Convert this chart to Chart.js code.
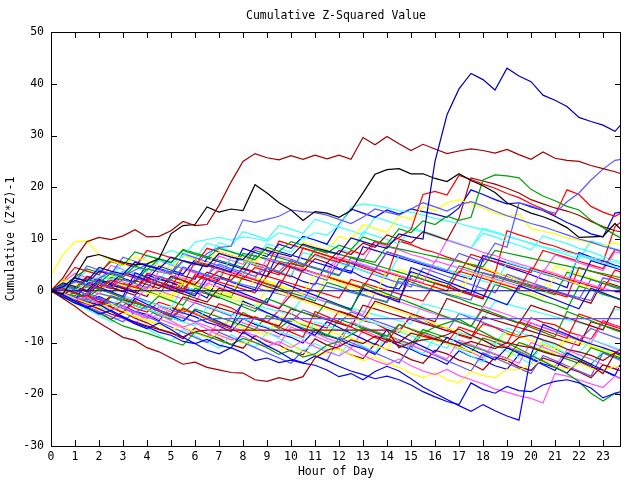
<!DOCTYPE html>
<html>
<head>
<meta charset="utf-8">
<title>Cumulative Z-Squared Value</title>
<script src="https://cdn.jsdelivr.net/npm/chart.js@4.4.1/dist/chart.umd.min.js"></script>
<style>
  html, body { margin: 0; padding: 0; background: #fff; }
  #wrap { width: 640px; height: 480px; }
</style>
</head>
<body>
<div id="wrap"><canvas id="chart" width="640" height="480"></canvas></div>
<script>
// Sample times (hours), every half hour, last one at 23:45
const hours = [
  0, 0.5, 1, 1.5, 2, 2.5, 3, 3.5,
  4, 4.5, 5, 5.5, 6, 6.5, 7, 7.5,
  8, 8.5, 9, 9.5, 10, 10.5, 11, 11.5,
  12, 12.5, 13, 13.5, 14, 14.5, 15, 15.5,
  16, 16.5, 17, 17.5, 18, 18.5, 19, 19.5,
  20, 20.5, 21, 21.5, 22, 22.5, 23, 23.5,
  23.75
];
const hourTicks = [0, 1, 2, 3, 4, 5, 6, 7, 8, 9, 10, 11, 12, 13, 14, 15, 16, 17, 18, 19, 20, 21, 22, 23];
const valueTicks = [-30, -20, -10, 0, 10, 20, 30, 40, 50];

// Series
const zeroLine = [
  0, 0, 0, 0, 0, 0, 0, 0,
  0, 0, 0, 0, 0, 0, 0, 0,
  0, 0, 0, 0, 0, 0, 0, 0,
  0, 0, 0, 0, 0, 0, 0, 0,
  0, 0, 0, 0, 0, 0, 0, 0,
  0, 0, 0, 0, 0, 0, 0, 0,
  0
];
const bigBlue = [
  0, 0.8, 2.5, 1.8, 4.5, 3.8, 3.2, 5.5,
  4.8, 4.2, 6.5, 5.8, 5.2, 4.6, 7.2, 6.5,
  6, 8.5, 7.8, 7.2, 6.6, 9, 8.3, 7.7,
  7.1, 10.2, 9.5, 8.8, 8.2, 11, 10.4, 10,
  25, 34, 39, 42, 40.8, 38.8, 43, 41.5,
  40.4, 37.8, 36.8, 35.6, 33.5, 32.7, 32, 30.8,
  32.1
];
const darkRedTop = [
  0, 2.5, 6.2, 9.5, 10.3, 9.9, 10.6, 11.8,
  10.4, 10.5, 11.6, 13.4, 12.6, 12.8, 16.5, 21,
  25, 26.5, 25.7, 25.3, 26.1, 25.4, 26.2, 25.5,
  26.2, 25.4, 29.6, 28.2, 29.8, 28.4, 27.1, 28.3,
  27.4, 26.5, 27, 27.4, 27.1, 26.6, 27.3, 26.3,
  25.4, 26.8, 25.6, 25.2, 25, 24.2, 23.6, 23,
  22.6
];
const blackTop = [
  0, -0.6, 2.8, 6.5, 7, 6.2, 5.5, 5,
  5.2, 6.2, 11, 12.6, 12.8, 16.2, 15.2, 15.8,
  15.5, 20.5, 18.9, 17, 15.6, 13.6, 15.3, 15,
  14.2, 15.5, 18.9, 22.5, 23.4, 23.6, 22.6, 22.6,
  21.7, 21.1, 22.6, 21.3, 20.3, 19, 17, 16,
  15, 14.3, 13.4, 12.2, 10.3, 10.4, 10.5, 13,
  11.8
];
const darkRedLow = [
  0, -1.5, -3, -4.8, -6.2, -7.6, -9, -9.6,
  -11, -11.8, -13, -14.2, -13.8, -14.8, -15.3, -15.8,
  -15.9, -17.2, -17.5, -16.8, -17.3, -16.6, -13, -11.5,
  -10.8, -9.5, -10.2, -8.8, -9.5, -10, -8.2, -8.8,
  -9.4, -10, -10.6, -9.8, -10.5, -11.2, -10, -10.6,
  -11, -11.8, -12.5, -12.8, -13.5, -14.5, -16, -12,
  -11.3
];
const darkRedFlat = [
  0, -0.8, -1.8, -2.5, -3.5, -4.5, -5.2, -6,
  -6.8, -7.5, -8.2, -8.9, -7.9, -7.6, -7.6, -7.6,
  -7.6, -7.6, -7.6, -7.6, -7.6, -7.6, -7.6, -7.6,
  -7.6, -7.6, -7.6, -7.6, -7.6, -11, -10, -9.5,
  -9.2, -8.5, -7.4, -8.6, -9.5, -10.8, -11, -9,
  -8.6, -9.5, -10.2, -11.3, -11.8, -12.5, -13.5, -12,
  -12.5
];
const medBlueFlat = [
  0, -0.6, -1.4, -2.2, -1.5, -2.5, -3.4, -4.2,
  -3, -3.8, -4.6, -5.3, -6, -5.4, -5.4, -5.4,
  -5.4, -5.4, -5.4, -5.4, -5.4, -5.4, -5.4, -5.4,
  -5.4, -5.4, -5.4, -5.4, -5.4, -5.4, -5.4, -5.4,
  -5.4, -5.4, -5.4, -5.4, -5.4, -5.4, -5.4, -5.4,
  -5.4, -5.4, -5.4, -5.4, -5.4, -5.4, -5.4, -5.4,
  -5.4
];
const blueLowA = [
  0, -1.2, -2.4, -3.2, -4.5, -3.8, -5, -6.2,
  -7, -8, -8.6, -9.8, -10.2, -11.5, -12.2, -11,
  -12, -13.5, -13, -13.9, -13.4, -14, -14.4, -15.3,
  -16.6, -16, -17.2, -15.6, -14.6, -15.5, -17, -18.6,
  -19.8, -21, -22.2, -23.3, -22, -23.2, -24.2, -25,
  -12.4, -6.5, -7.5, -8.4, -9.5, -10.3, -11, -11.8,
  -12.2
];
const blueLowB = [
  0, -0.8, -2, -3.2, -2.6, -4, -5.2, -6.4,
  -7.3, -6.2, -7.5, -9, -10.2, -9.4, -10.5, -11.1,
  -8, -9.3, -10.6, -11.8, -13.2, -13.9, -12.6, -13.5,
  -14.6, -15.5, -16.2, -17, -16.5, -17.2, -18.2, -19.5,
  -20.5, -21.4, -22, -17.8, -19.1, -19.8, -18.5, -19.3,
  -19.5, -18.2, -17.5, -17.2, -17.8, -18.8, -20.7, -19.8,
  -19.5
];
const greenLow = [
  0, -1, -2.2, -3.2, -4.3, -5.6, -6.8, -7.5,
  -8.2, -9, -9.8, -10.5, -8, -8.8, -9.6, -10.4,
  -9.2, -10, -11, -12.3, -11.5, -12.8, -12.2, -10.5,
  -9.8, -8.5, -7.2, -8, -8.8, -6.5, -7.4, -8.2,
  -7, -6.2, -5.5, -6.8, -8, -9.2, -10.1, -11.2,
  -12.4, -13.6, -14.8, -16, -17.6, -19.8, -21.3, -19.8,
  -20.2
];
const magentaLow = [
  0, -0.6, -1.8, -1.2, -2.6, -3.8, -3, -4.2,
  -5.4, -4.6, -5.8, -7, -6.2, -7.4, -8.6, -9.5,
  -8.8, -10, -10.8, -9.8, -11, -9.6, -10.8, -11.8,
  -12.6, -11.2, -12.5, -13.5, -14.3, -13.2, -14.5, -15.5,
  -16.2, -15.2, -16.4, -17.2, -18, -19, -19.6, -20.3,
  -20.8, -21.7, -16, -16.5, -17.2, -18, -18.7, -16.5,
  -17
];
const yellowLow = [
  0, -0.5, -1.5, -2.4, -3.2, -2.5, -3.8, -5,
  -5.8, -6.6, -7.5, -6.8, -8, -9, -8.4, -9.5,
  -10.2, -9.4, -10.8, -11.6, -10.5, -11.8, -12.5, -12,
  -11.2, -12.4, -13.5, -12.8, -14, -14.8, -16, -16.8,
  -15.8, -17.2, -17.8, -15.6, -16.4, -16.8, -15.2, -15.3,
  -14.2, -13.5, -14.6, -15.2, -14, -15, -15.6, -14.5,
  -15
];
const medBlueRise = [
  0, 1, 0.2, -0.8, 1.5, 0.6, 2.2, 1.4,
  0.6, 2.8, 2, 4.6, 3.8, 3, 5.2, 4.3,
  3.6, 2.8, 4.5, 3.7, 6, 5.2, 4.5, 3.8,
  3.1, 5.5, 4.8, 4, 7.5, 6.8, 6, 5.2,
  4.5, 3.8, 7.2, 6.4, 5.6, 9.2, 8.4, 17,
  16.4, 15.6, 15, 17.2, 18.9, 21.4, 23.5, 25.2,
  25.4
];
const medBlueHigh = [
  0, 0.6, 1.8, 1, 2.4, 3.6, 2.8, 4,
  5, 4.2, 3.5, 5.8, 5, 7.2, 8.4, 8.6,
  13.7, 13.2, 13.8, 14.4, 15.6, 15.3, 15.1, 14.6,
  13.8, 13, 14.2, 15.8, 15.2, 14.6, 15.8, 17,
  16.2, 15.4, 16.6, 17.2, 16.4, 15.4, 14.5, 13.8,
  13, 12.4, 11.6, 10.8, 10, 9.4, 8.6, 8,
  7.6
];
const greenHigh = [
  0, 1.2, 0.4, 2.2, 1.5, 3.4, 2.6, 4.8,
  4, 6.2, 5.5, 7.8, 7, 6.3, 8.2, 7.5,
  6.8, 6, 8.4, 7.6, 9.5, 8.8, 8, 7.3,
  8.8, 8, 10.4, 9.6, 9, 12, 11.2, 13.5,
  12.8, 14.4, 13.6, 14.2, 21.4, 22.4, 22.2, 21.8,
  19.6, 18.3, 17.4, 16.3, 15.6, 13.6, 12.2, 10.8,
  10.2
];
const redHigh = [
  0, 0.4, -0.6, 1.2, 0.5, 2, 1.3, 0.6,
  2.4, 1.7, 1, 0.3, 2.8, 2.1, 3.8, 3,
  2.3, 4.5, 3.8, 3.1, 5.4, 4.6, 7, 6.2,
  5.5, 7.8, 7, 9.6, 8.8, 10.3, 11.8, 18.6,
  19.2, 18.5, 22.3, 21.5, 20.6, 19.8, 18.8, 18,
  16.8, 15.8, 14.6, 19.5, 18.6, 16.3, 15.2, 14.4,
  15
];
const cyanHigh = [
  0, 0.8, 0, 1.6, 2.8, 2.1, 3.5, 4.6,
  4, 5.8, 5.2, 6.6, 9.4, 9.9, 10.3, 9.8,
  10.4, 10.1, 9.6, 11.2, 10.6, 10, 11.2, 10.8,
  12.6, 16.2, 16.8, 16.5, 16, 15.5, 15.2, 14.6,
  14, 13.5, 13, 12.4, 11.8, 11.2, 10.5, 9.8,
  9.2, 8.5, 8, 7.4, 6.9, 6.4, 6, 5.5,
  5.2
];
const yellowHigh = [
  3, 7, 9.5, 9.6, 7, 5.8, 4.8, 6.5,
  5.8, 5, 4.2, 6.8, 6, 5.3, 7.5, 6.8,
  6.2, 5.5, 8, 7.3, 6.6, 9.4, 8.6, 7.9,
  10.5, 9.8, 12.8, 12, 11.3, 14.5, 13.8, 16.2,
  15.5, 17, 17.6, 16.8, 16, 15, 14.4, 14.8,
  12, 11.5, 11, 10.2, 9.8, 9.2, 8.6, 9.3,
  8.8
];
const darkRedMid = [
  0, -0.8, 0.6, -0.2, 1.4, 0.6, -0.2, 2,
  1.2, 0.4, 2.8, 2, 1.2, 3.6, 2.8, 2,
  4.4, 3.6, 2.8, 5.4, 4.6, 3.8, 6.2, 5.4,
  7.8, 7, 9.2, 8.4, 10.8, 10, 9.2, 11.4,
  10.6, 9.8, 14, 21.8, 21.2, 20.6, 19.8, 18.9,
  17.6, 16.8, 16, 15.4, 14.6, 13.4, 12.4, 11.6,
  11.4
];
const blueMid = [
  0, 1.5, 0.8, 0, 2.2, 1.4, 3.6, 2.8,
  2, 4.8, 4, 3.2, 6, 5.2, 4.4, 3.6,
  8.2, 7.4, 6.6, 9, 8.2, 10.5, 9.8, 9,
  12.8, 15.8, 15, 14.2, 15.6, 14.8, 15.8, 15.3,
  14.8, 14.2, 16, 19.5, 18.6, 17.6, 16.8, 17,
  16.2, 15.5, 14.4, 13.2, 12.2, 11, 10.4, 15,
  15.2
];
const red1 = [
  0, -1, -2, -1, -2.2, -3.2, -4.2, -2,
  -3, -4, -5, -3.5, -4.5, -5.5, -6.5, -7.4,
  -8.3, -5, -6, -7, -8, -9, -4, -5,
  -6, -7, -8, -9, -10, -6.5, -7.5, -8.5,
  -9.3, -10, -7, -7.8, -8.6, -9.4, -10.2, -6,
  -6.8, -7.6, -8.4, -9.2, -4.5, -5.3, -6.2, -7,
  -7.4
];
const green1 = [
  0, 0.5, -0.5, -1.4, 0.4, -0.5, -1.4, -2.3,
  -3.2, -1, -1.9, -2.8, 0.5, -0.4, -1.3, -2.2,
  -3.1, -4, -1.5, -2.4, -3.3, -4.2, -5.1, -2,
  -2.9, -3.8, 1.2, 0.3, -0.6, -1.5, -2.4, -3.3,
  -4.2, -5.1, -6, -6.9, -3.5, -4.4, -5.3, -6.2,
  -7.1, -8, -8.9, -4, -4.9, -5.8, -6.7, -7.6,
  -8
];
const blue1 = [
  0, -0.9, -1.8, 1.6, 0.7, -0.2, -1.1, 3.5,
  2.6, 1.7, 0.8, -0.1, -1, 2.2, 1.3, 0.4,
  -0.5, -1.4, -2.3, 1.8, 0.9, 0, -0.9, -1.8,
  -2.7, -3.6, 0.5, -0.4, -1.3, -2.2, 4.5, 3.6,
  2.7, 1.8, 0.9, 0, -0.9, -1.8, -2.7, 1,
  0.1, -0.8, -1.7, -2.6, -3.5, 0.5, -0.4, -1.3,
  -1.7
];
const magenta1 = [
  0, -0.7, 0.8, 0.1, -0.6, 2.4, 1.7, 1,
  0.3, 3.8, 3.1, 2.4, 1.7, 1, 4.4, 3.7,
  3, 2.3, 6.2, 5.5, 4.8, 4.1, 3.4, 2.7,
  6.5, 5.8, 5.1, 4.4, 3.7, 3, 2.3, 1.6,
  5.8, 5.1, 4.4, 3.7, 3, 2.3, 1.6, 0.9,
  0.2, 4, 3.3, 2.6, 1.9, 1.2, 0.5, -0.2,
  -0.5
];
const cyan1 = [
  0, -0.8, -1.6, -2.4, -3.2, -4, -2, -2.8,
  -3.6, -4.4, -5.2, -6, -6.8, -3, -3.8, -4.6,
  -5.4, -6.2, -7, -7.8, -8.6, -9.4, -6, -6.8,
  -7.6, -8.4, -5.5, -6.3, -7.1, -7.9, -8.7, -9.5,
  -10.3, -11.1, -8, -8.8, -9.6, -10.4, -7.2, -8,
  -8.8, -9.6, -10.4, -11.2, -12, -9.4, -10.2, -11,
  -11.4
];
const darkred1 = [
  0, 0.4, -0.4, -1.2, 1.5, 0.7, -0.1, -0.9,
  1.8, 1, 0.2, -0.6, -1.4, -2.2, 0.5, -0.3,
  -1.1, -1.9, -2.7, -3.5, -0.8, -1.6, -2.4, -3.2,
  -4, -4.8, -5.6, -2, -2.8, -3.6, -4.4, -5.2,
  -6, -1.5, -2.3, -3.1, -3.9, -4.7, -5.5, -6.3,
  -2.8, -3.6, -4.4, -5.2, -6, -6.8, -7.6, -3,
  -3.4
];
const yellow1 = [
  0, 1.8, 1, 0.2, -0.6, 2, 1.2, 0.4,
  -0.4, -1.2, -2, 1.6, 0.8, 0, -0.8, -1.6,
  -2.4, -3.2, 0.4, -0.4, -1.2, -2, -2.8, -3.6,
  -4.4, -5.2, -6, -2.4, -3.2, -4, -4.8, -5.6,
  -6.4, -7.2, -8, -8.8, -9.6, -10.4, -8, -8.8,
  -9.6, -10.4, -11.2, -9, -9.8, -10.6, -11.4, -12.2,
  -12.6
];
const medblue1 = [
  0, -0.6, -1.2, -1.8, -0.5, -1.1, -1.7, 2.4,
  1.8, 1.2, 0.6, 0, -0.6, 3, 2.4, 1.8,
  1.2, 0.6, 0, -0.6, -1.2, -1.8, 1.5, 0.9,
  0.3, -0.3, -0.9, -1.5, -2.1, 1.8, 1.2, 0.6,
  0, -0.6, -1.2, -1.8, 3.5, 2.9, 2.3, 1.7,
  1.1, 0.5, -0.1, -0.7, -1.3, -1.9, 2.5, 1.9,
  1.6
];
const red2 = [
  0, 1.2, 0.5, 2.8, 2.1, 1.4, 0.7, 0,
  3.4, 2.7, 2, 1.3, 5.6, 4.9, 4.2, 3.5,
  2.8, 2.1, 1.4, 0.7, 4.8, 4.1, 3.4, 2.7,
  2, 1.3, 0.6, 4.2, 3.5, 2.8, 2.1, 1.4,
  0.7, 0, 3.8, 3.1, 2.4, 1.7, 1, 0.3,
  4.4, 3.7, 3, 2.3, 1.6, 0.9, 0.2, 4,
  3.6
];
const green2 = [
  0, -0.5, -1, 0.8, 0.3, 2.6, 2.1, 1.6,
  4.2, 3.7, 3.2, 5.8, 5.3, 4.8, 4.3, 3.8,
  7.2, 6.7, 6.2, 5.7, 5.2, 4.7, 8, 7.5,
  7, 6.5, 6, 5.5, 8.6, 8.1, 7.6, 7.1,
  6.6, 6.1, 5.6, 5.1, 4.6, 7.8, 7.3, 6.8,
  6.3, 5.8, 5.3, 4.8, 4.3, 3.8, 3.3, 2.8,
  2.5
];
const blue2 = [
  0, -1.1, -2.2, -3.3, -2, -3.1, -4.2, -1.5,
  -2.6, -3.7, -4.8, -5.9, -3.8, -4.9, -6, -7.1,
  -2, -3.1, -4.2, -5.3, -6.4, -7.5, -8.6, -6,
  -7.1, -8.2, -9.3, -10.4, -7.5, -8.6, -9.7, -10.8,
  -11.9, -9, -10.1, -11.2, -12.3, -13.4, -11, -12.1,
  -13.2, -14.3, -15.4, -12, -13.1, -14.2, -15.3, -16.4,
  -14
];
const magenta2 = [
  0, -0.9, -1.8, -2.7, -3.6, -4.5, -5.4, -6.3,
  -4.5, -5.4, -6.3, -7.2, -8.1, -9, -6, -6.9,
  -7.8, -8.7, -9.6, -10.5, -7, -7.9, -8.8, -9.7,
  -10.6, -6, -6.9, -7.8, -8.7, -9.6, -10.5, -11.4,
  -12.3, -13.2, -9.5, -10.4, -11.3, -12.2, -13.1, -14,
  -10, -10.9, -11.8, -12.7, -8.5, -9.4, -10.3, -11.2,
  -11.6
];
const cyan2 = [
  0, 1.5, 0.8, 0.1, 2.2, 1.5, 4, 3.3,
  2.6, 1.9, 5.2, 4.5, 3.8, 3.1, 2.4, 6.5,
  5.8, 5.1, 4.4, 3.7, 3, 7.4, 6.7, 6,
  5.3, 4.6, 3.9, 3.2, 2.5, 6.8, 6.1, 5.4,
  4.7, 4, 3.3, 2.6, 1.9, 1.2, 5.5, 4.8,
  4.1, 3.4, 2.7, 2, 6.8, 6.1, 5.4, 4.7,
  4.4
];
const darkred2 = [
  0, -0.7, -1.4, -2.1, -2.8, -1, -1.7, -2.4,
  -3.1, -3.8, -4.5, -1.2, -1.9, -2.6, -3.3, -4,
  -4.7, -5.4, -6.1, -6.8, -3.5, -4.2, -4.9, -5.6,
  -6.3, -7, -2.8, -3.5, -4.2, -4.9, -5.6, -6.3,
  -7, -7.7, -8.4, -9.1, -5, -5.7, -6.4, -7.1,
  -7.8, -8.5, -9.2, -9.9, -10.6, -6, -6.7, -7.4,
  -7.8
];
const yellow2 = [
  0, 2.2, 1.4, 0.6, -0.2, 3, 2.2, 1.4,
  0.6, -0.2, -1, 2.6, 1.8, 1, 0.2, -0.6,
  3.5, 2.7, 1.9, 1.1, 0.3, -0.5, 3.2, 2.4,
  1.6, 0.8, 0, -0.8, 3.8, 3, 2.2, 1.4,
  0.6, -0.2, -1, 3.5, 2.7, 1.9, 1.1, 0.3,
  -0.5, -1.3, 2.8, 2, 1.2, 0.4, -0.4, -1.2,
  -1.6
];
const medblue2 = [
  0, -1, -2, -3, -4, -5, -6, -4,
  -5, -6, -7, -8, -9, -10, -8, -9,
  -10, -11, -12, -13, -14, -11.5, -12.5, -13.5,
  -9, -10, -11, -12, -13, -14, -10.5, -11.5,
  -12.5, -13.5, -14.5, -15.5, -12, -13, -14, -15,
  -16, -12.5, -13.5, -14.5, -15.5, -16.5, -12, -13,
  -13.5
];
const red3 = [
  0, 1, 2.5, 1.8, 1.1, 0.4, 3.2, 2.5,
  1.8, 1.1, 0.4, -0.3, 3.1, 2.4, 1.7, 1,
  0.3, -0.4, 2.8, 2.1, 1.4, 0.7, 0, -0.7,
  -1.4, 2.2, 1.5, 0.8, 0.1, -0.6, -1.3, -2,
  1.5, 0.8, 0.1, -0.6, -1.3, 3, 2.3, 1.6,
  0.9, 0.2, -0.5, -1.2, 4.5, 3.8, 3.1, 2.4,
  2
];
const green3 = [
  0, -0.8, -1.6, -2.4, -3.2, -1.2, -2, -2.8,
  -3.6, -4.4, -5.2, -6, -3.5, -4.3, -5.1, -5.9,
  -6.7, -7.5, -4.8, -5.6, -6.4, -7.2, -8, -8.8,
  -5.5, -6.3, -7.1, -7.9, -8.7, -9.5, -10.3, -7.5,
  -8.3, -9.1, -9.9, -10.7, -11.5, -12.3, -13.1, -10,
  -10.8, -11.6, -12.4, -13.2, -14, -11, -11.8, -12.6,
  -13
];
const blue3 = [
  0, 0.6, 2, 1.3, 3.8, 3.1, 2.4, 1.7,
  5, 4.3, 3.6, 2.9, 2.2, 6.3, 5.6, 4.9,
  4.2, 3.5, 2.8, 7.6, 6.9, 6.2, 5.5, 4.8,
  4.1, 3.4, 8.5, 7.8, 7.1, 6.4, 5.7, 5,
  4.3, 3.6, 2.9, 2.2, 6.8, 6.1, 5.4, 4.7,
  4, 3.3, 2.6, 1.9, 1.2, 5.8, 5.1, 4.4,
  4
];
const magenta3 = [
  0, 0.5, -0.3, 1.2, 0.4, -0.4, -1.2, -2,
  0.8, 0, -0.8, -1.6, -2.4, 1.5, 0.7, -0.1,
  -0.9, -1.7, -2.5, -3.3, 0.2, -0.6, -1.4, -2.2,
  -3, -3.8, -4.6, -0.5, -1.3, -2.1, -2.9, -3.7,
  -4.5, -5.3, -6.1, -6.9, -3, -3.8, -4.6, -5.4,
  -6.2, -7, -7.8, -8.6, -9.4, -10.2, -6, -6.8,
  -7.2
];
const cyan3 = [
  0, -0.6, -1.2, -1.8, -2.4, -3, -1, -1.6,
  -2.2, -2.8, -3.4, 0.8, 0.2, -0.4, -1, -1.6,
  -2.2, -2.8, -3.4, -4, -4.6, -1, -1.6, -2.2,
  -2.8, -3.4, -4, -4.6, -5.2, -5.8, -6.4, -2.5,
  -3.1, -3.7, -4.3, -4.9, -5.5, -2, -2.6, -3.2,
  -3.8, -4.4, -5, -5.6, -6.2, -6.8, -7.4, -3.5,
  -3.8
];
const yellow3 = [
  0, -0.7, -1.4, -2.1, -2.8, -3.5, -4.2, -4.9,
  -5.6, -6.3, -3, -3.7, -4.4, -5.1, -5.8, -6.5,
  -7.2, -7.9, -8.6, -5, -5.7, -6.4, -7.1, -7.8,
  -8.5, -9.2, -9.9, -10.6, -11.3, -7.5, -8.2, -8.9,
  -9.6, -10.3, -11, -11.7, -12.4, -13.1, -13.8, -10,
  -10.7, -11.4, -12.1, -9.5, -10.2, -10.9, -11.6, -12.3,
  -12.6
];
const red4 = [
  0, 1.8, 4.5, 3.8, 3.1, 6, 5.3, 4.6,
  7.8, 7.1, 6.4, 5.7, 5, 8.2, 7.5, 6.8,
  6.1, 5.4, 4.7, 9.6, 8.9, 8.2, 7.5, 6.8,
  6.1, 5.4, 4.7, 4, 7.5, 6.8, 6.1, 5.4,
  4.7, 4, 3.3, 7, 6.3, 5.6, 4.9, 4.2,
  3.5, 7.8, 7.1, 6.4, 5.7, 5, 4.3, 8,
  7.6
];
const green4 = [
  0, 0.9, 2.6, 4.2, 3.5, 5.6, 4.9, 7.5,
  6.8, 6.1, 5.4, 8, 7.3, 6.6, 5.9, 5.2,
  4.5, 7.8, 7.1, 6.4, 5.7, 5, 4.3, 3.6,
  2.9, 6.4, 5.7, 5, 4.3, 3.6, 2.9, 2.2,
  1.5, 0.8, 4.8, 4.1, 3.4, 2.7, 2, 1.3,
  0.6, -0.1, -0.8, 3.6, 2.9, 2.2, 1.5, 0.8,
  0.5
];
const medblue3 = [
  0, 0.8, 1.6, 4.8, 4, 3.2, 6.5, 5.7,
  4.9, 4.1, 3.3, 7.2, 6.4, 5.6, 4.8, 4,
  3.2, 6.8, 6, 5.2, 4.4, 3.6, 2.8, 2,
  5.5, 4.7, 3.9, 3.1, 2.3, 1.5, 0.7, 4.4,
  3.6, 2.8, 2, 1.2, 0.4, -0.4, 3.2, 2.4,
  1.6, 0.8, 0, -0.8, -1.6, 2.2, 1.4, 0.6,
  0.2
];
const cyan4 = [
  0, -1.2, -2.4, -3.6, -4.8, -6, -5, -6.2,
  -7.4, -8.6, -9.8, -7.5, -8.7, -9.9, -11.1, -8.5,
  -9.7, -10.9, -8, -9.2, -10.4, -11.6, -10.2, -11.4,
  -12.6, -9.5, -10.7, -11.9, -8.6, -9.8, -11, -12.2,
  -9, -10.2, -11.4, -12.6, -13.8, -10.5, -11.7, -12.9,
  -14.1, -9.8, -11, -12.2, -13.4, -14.6, -11.2, -12.4,
  -13
];
const red5 = [
  0, -0.4, -1.3, -0.9, -1.7, -2.8, -2.1, -3.4,
  -4.1, -2.2, -3, -3.9, -4.3, -5.5, -2.5, -3.3,
  -4.6, -5.2, -6.1, -3.8, -4.4, -5.7, -6.5, -7.2,
  -3.9, -4.6, -5.8, -6.3, -7.5, -8.1, -4.7, -5.5,
  -6.8, -7.2, -8.6, -9.3, -6.4, -7.1, -8.3, -8.9,
  -5.2, -6.1, -6.6, -7.9, -8.6, -9.4, -5.8, -6.7,
  -7
];
const blue4 = [
  0, 0.9, -0.3, 2.7, 1.9, 1.1, 0.5, -0.4,
  3.1, 2.2, 1.6, 0.5, -0.2, -1.4, 2.6, 1.7,
  0.9, 0.2, 4.5, 3.6, 2.9, 1.8, 1.2, 5.4,
  4.3, 3.8, 2.6, 1.9, 0.8, 0.3, 3.7, 2.9,
  2.1, 1.4, 0.2, -0.5, 6.2, 5.5, 4.6, 3.9,
  3.1, 2.2, 1.5, 0.6, 7.4, 6.5, 5.8, 4.9,
  4.6
];
const magenta4 = [
  0, 1.6, 3.4, 2.5, 1.8, 4.9, 4.1, 3.2,
  2.6, 5.8, 5, 4.3, 3.4, 2.8, 6.7, 5.9,
  5.1, 8.2, 7.6, 6.7, 6.1, 5.2, 4.4, 3.8,
  7.1, 6.3, 5.6, 9.4, 8.5, 7.9, 7, 6.4,
  5.5, 9.8, 9, 8.3, 7.4, 6.8, 5.9, 5.2,
  4.5, 3.6, 6.9, 6.2, 5.4, 4.7, 3.9, 7.5,
  7.2
];
const green5 = [
  0, -1.1, -0.4, -1.6, -2.5, -3.7, -1.8, -2.9,
  -3.6, -4.8, -5.5, -3.3, -4.4, -5.1, -6.3, -7,
  -4.2, -5.4, -6.1, -7.3, -5.5, -6.6, -7.4, -8.5,
  -9.3, -6.2, -7.4, -8.1, -9.2, -10.1, -10.9, -8,
  -8.8, -10, -10.7, -11.9, -9.1, -9.9, -11.1, -11.8,
  -12.9, -10.4, -11.2, -12.3, -13.1, -14.2, -12, -12.8,
  -13.2
];
const cyan5 = [
  0, 0.3, 1.8, 3.9, 3.1, 2.4, 5.3, 4.5,
  3.6, 6.6, 7.8, 7, 6.1, 9.2, 8.5, 7.6,
  6.9, 6, 9.1, 8.3, 7.4, 10.5, 9.8, 8.9,
  8.2, 7.3, 11.4, 10.6, 9.9, 9, 12.3, 11.5,
  10.8, 9.9, 9.2, 8.3, 11.1, 10.4, 9.5, 8.8,
  7.9, 10.6, 9.8, 9.1, 8.2, 7.5, 6.6, 5.9,
  5.6
];
const darkred3 = [
  0, -1.3, -2.1, -3.4, -4.2, -5.5, -4.1, -5.3,
  -6.2, -7.4, -8.1, -9.3, -7.2, -8.3, -9.2, -10.4,
  -11.1, -8.6, -9.8, -10.5, -11.7, -12.4, -9.3, -10.5,
  -11.2, -12.4, -13.1, -10.2, -11.4, -12.1, -13.3, -14,
  -11.5, -12.2, -13.4, -14.1, -15.3, -12.8, -13.5, -14.7,
  -15.4, -13, -13.8, -14.9, -15.7, -16.8, -14.3, -15.1,
  -15.5
];
const yellow4 = [
  0, -0.6, 0.9, 0.2, -0.5, -1.3, 1.7, 0.9,
  0.2, -0.7, -1.4, 2.2, 1.4, 0.6, -0.2, -1,
  -1.7, 2.5, 1.8, 1, 0.1, -0.6, -1.5, 3,
  2.2, 1.5, 0.6, -0.1, -0.9, 4.1, 3.4, 2.5,
  1.8, 0.9, 0.2, 5.2, 4.5, 3.6, 2.9, 2,
  1.3, 0.4, 4.8, 4, 3.3, 2.4, 1.7, 0.8,
  0.5
];
const medblue4 = [
  0, -0.9, -1.5, -0.4, -1.3, -2.2, -2.9, -1.1,
  -2, -2.8, -3.7, -4.4, -2.3, -3.2, -4, -4.9,
  -2.6, -3.4, -4.3, -5.1, -6, -3.7, -4.6, -5.4,
  -6.3, -4.1, -4.9, -5.8, -6.6, -7.5, -5.2, -6.1,
  -6.9, -7.8, -4.4, -5.3, -6.1, -7, -7.8, -8.7,
  -6.2, -7.1, -7.9, -8.8, -9.6, -7.3, -8.2, -9,
  -9.4
];
const red6 = [
  0, 0.7, -0.2, 2.3, 1.5, 0.8, 3.6, 2.9,
  2.1, 1.2, 0.6, 4.4, 3.5, 2.9, 2, 6.5,
  5.8, 4.9, 4.3, 3.4, 2.7, 8.3, 7.5, 6.8,
  5.9, 5.3, 4.4, 3.7, 2.8, 9.6, 8.9, 8,
  7.4, 6.5, 5.8, 4.9, 4.2, 3.4, 11.6, 10.8,
  10.1, 9.2, 8.6, 7.7, 7, 6.1, 5.5, 12.4,
  13.3
];
const blue5 = [
  0, -0.5, -1.7, -2.3, -1.1, -2.2, -2.9, -4,
  -4.6, -5.8, -3.2, -4.3, -5, -6.1, -6.8, -7.9,
  -5.4, -6.5, -7.2, -8.3, -9, -10.1, -7.6, -8.7,
  -9.4, -10.5, -11.2, -12.3, -9.5, -10.6, -11.3, -12.4,
  -13.1, -14.2, -11.6, -12.7, -13.4, -14.5, -15.2, -12.3,
  -13, -14.1, -14.8, -15.9, -13.6, -14.7, -15.4, -16.5,
  -17
];
const green6 = [
  0, 0.6, 1.9, 1.2, 0.3, -0.4, 1.5, 0.8,
  -0.1, -0.8, 2.6, 1.9, 1, 0.3, -0.6, -1.3,
  2.8, 2.1, 1.2, 0.5, -0.4, -1.1, -2, 1.6,
  0.9, 0, -0.7, -1.6, -2.3, 2.4, 1.7, 0.8,
  0.1, -0.8, -1.5, -2.4, -3.1, 1.2, 0.5, -0.4,
  -1.1, -2, -2.7, -3.6, 0.9, 0.2, -0.7, -1.4,
  -1.8
];
const magenta5 = [
  0, -1, -1.8, -2.9, -1.6, -2.6, -3.4, -4.5,
  -5.3, -3.1, -4.1, -4.9, -6, -6.8, -7.9, -5.2,
  -6.2, -7, -8.1, -8.9, -6.3, -7.3, -8.1, -9.2,
  -10, -11.1, -7.6, -8.6, -9.4, -10.5, -11.3, -8.2,
  -9.2, -10, -11.1, -11.9, -13, -9.8, -10.8, -11.6,
  -12.7, -13.5, -14.6, -11.4, -12.4, -13.2, -14.3, -15.1,
  -14.4
];
const cyan6 = [
  0, 1.1, 2.7, 2, 4.1, 3.3, 5.6, 4.9,
  6.8, 6.1, 5.3, 7.9, 7.2, 6.4, 9.3, 8.6,
  11.4, 10.7, 9.9, 12.6, 11.9, 11.1, 13.8, 13.1,
  12.3, 11.6, 10.8, 14.2, 13.5, 12.7, 12, 11.2,
  10.5, 9.7, 9, 8.2, 12.1, 11.4, 10.6, 9.9,
  9.1, 8.4, 7.6, 6.9, 6.1, 9.6, 8.9, 8.1,
  7.8
];
const darkred4 = [
  0, 0.8, 0.1, -0.7, 1.9, 1.2, 0.4, -0.3,
  -1.1, 2.4, 1.6, 0.9, 0.1, -0.6, -1.4, 3.1,
  2.3, 1.6, 0.8, 0.1, -0.7, 4.2, 3.4, 2.7,
  1.9, 1.2, 0.4, -0.3, -1.1, -1.8, 2.9, 2.2,
  1.4, 0.7, -0.1, -0.8, -1.6, 3.6, 2.8, 2.1,
  1.3, 0.6, -0.2, -0.9, -1.7, -2.4, 1.8, 1.1,
  0.7
];

// Colours
const RED = '#ff0000', GREEN = '#00a000', BLUE = '#0000ff', MAGENTA = '#ff55ff',
      CYAN = '#40ffff', DARKRED = '#a00000', YELLOW = '#ffff00', MEDBLUE = '#5a5aff',
      BLACK = '#000000', DARKBLUE = '#0000b0';

// First entry is drawn on top
const series = [
  { data: zeroLine, color: DARKBLUE },
  { data: bigBlue, color: DARKBLUE },
  { data: darkRedTop, color: DARKRED },
  { data: blackTop, color: BLACK },
  { data: darkRedLow, color: DARKRED },
  { data: blueLowA, color: BLUE },
  { data: blueLowB, color: BLUE },
  { data: greenLow, color: GREEN },
  { data: magentaLow, color: MAGENTA },
  { data: yellowLow, color: YELLOW },
  { data: medBlueRise, color: MEDBLUE },
  { data: medBlueHigh, color: MEDBLUE },
  { data: greenHigh, color: GREEN },
  { data: redHigh, color: RED },
  { data: cyanHigh, color: CYAN },
  { data: yellowHigh, color: YELLOW },
  { data: darkRedMid, color: DARKRED },
  { data: blueMid, color: BLUE },
  { data: darkRedFlat, color: DARKRED },
  { data: medBlueFlat, color: MEDBLUE },
  { data: red1, color: RED },
  { data: green1, color: GREEN },
  { data: blue1, color: BLUE },
  { data: magenta1, color: MAGENTA },
  { data: cyan1, color: CYAN },
  { data: darkred1, color: DARKRED },
  { data: yellow1, color: YELLOW },
  { data: medblue1, color: MEDBLUE },
  { data: red2, color: RED },
  { data: green2, color: GREEN },
  { data: blue2, color: BLUE },
  { data: magenta2, color: MAGENTA },
  { data: cyan2, color: CYAN },
  { data: darkred2, color: DARKRED },
  { data: yellow2, color: YELLOW },
  { data: medblue2, color: MEDBLUE },
  { data: red3, color: RED },
  { data: green3, color: GREEN },
  { data: blue3, color: BLUE },
  { data: magenta3, color: MAGENTA },
  { data: cyan3, color: CYAN },
  { data: yellow3, color: YELLOW },
  { data: red4, color: RED },
  { data: green4, color: GREEN },
  { data: medblue3, color: MEDBLUE },
  { data: cyan4, color: CYAN },
  { data: red5, color: RED },
  { data: blue4, color: BLUE },
  { data: magenta4, color: MAGENTA },
  { data: green5, color: GREEN },
  { data: cyan5, color: CYAN },
  { data: darkred3, color: DARKRED },
  { data: yellow4, color: YELLOW },
  { data: medblue4, color: MEDBLUE },
  { data: red6, color: RED },
  { data: blue5, color: BLUE },
  { data: green6, color: GREEN },
  { data: magenta5, color: MAGENTA },
  { data: cyan6, color: CYAN },
  { data: darkred4, color: DARKRED }
];

const FONT = { family: "'DejaVu Sans Mono', monospace", size: 11.5, weight: 'normal' };

// Box and inward ticks on all four sides, gnuplot style
const framePlugin = {
  id: 'frame',
  afterDraw(chart) {
    const { ctx, chartArea: a, scales: { x, y } } = chart;
    const len = 6;
    ctx.save();
    ctx.strokeStyle = '#000';
    ctx.lineWidth = 1;
    ctx.strokeRect(a.left + 0.5, a.top + 0.5, a.right - a.left - 1, a.bottom - a.top);
    ctx.beginPath();
    hourTicks.forEach(h => {
      const px = Math.round(x.getPixelForValue(h)) + 0.5;
      ctx.moveTo(px, a.bottom); ctx.lineTo(px, a.bottom - len);
      ctx.moveTo(px, a.top); ctx.lineTo(px, a.top + len);
    });
    valueTicks.forEach(v => {
      const py = Math.round(y.getPixelForValue(v)) + 0.5;
      ctx.moveTo(a.left, py); ctx.lineTo(a.left + len, py);
      ctx.moveTo(a.right, py); ctx.lineTo(a.right - len, py);
    });
    ctx.stroke();
    ctx.restore();
  }
};

new Chart(document.getElementById('chart').getContext('2d'), {
  type: 'line',
  data: {
    datasets: series.map(s => ({
      data: hours.map((h, i) => ({ x: h, y: s.data[i] })),
      borderColor: s.color,
      borderWidth: 1.2,
      pointRadius: 0,
      fill: false,
      tension: 0
    }))
  },
  options: {
    responsive: false,
    animation: false,
    devicePixelRatio: 1,
    layout: { padding: { left: 0, right: 19, top: 0, bottom: 0 } },
    plugins: {
      legend: { display: false },
      tooltip: { enabled: false },
      title: {
        display: true,
        text: 'Cumulative Z-Squared Value',
        color: '#000',
        font: FONT,
        fullSize: false,
        padding: { top: 9, bottom: 9.2 }
      }
    },
    scales: {
      x: {
        type: 'linear',
        min: 0,
        max: 23.75,
        afterBuildTicks: s => { s.ticks = hourTicks.map(v => ({ value: v })); },
        afterFit: s => { s.height = 34; },
        grid: { display: false, drawTicks: false },
        border: { display: false },
        ticks: { color: '#000', font: FONT, padding: 4, maxRotation: 0, autoSkip: false },
        title: { display: true, text: 'Hour of Day', color: '#000', font: FONT, padding: { top: 0, bottom: 1 } }
      },
      y: {
        type: 'linear',
        min: -30,
        max: 50,
        afterBuildTicks: s => { s.ticks = valueTicks.map(v => ({ value: v })); },
        afterFit: s => { s.width = 51; },
        grid: { display: false, drawTicks: false },
        border: { display: false },
        ticks: { color: '#000', font: FONT, padding: 7 },
        title: { display: true, text: 'Cumulative (Z*Z)-1', color: '#000', font: FONT, padding: { top: 4, bottom: 0 } }
      }
    }
  },
  plugins: [framePlugin]
});
</script>
</body>
</html>
